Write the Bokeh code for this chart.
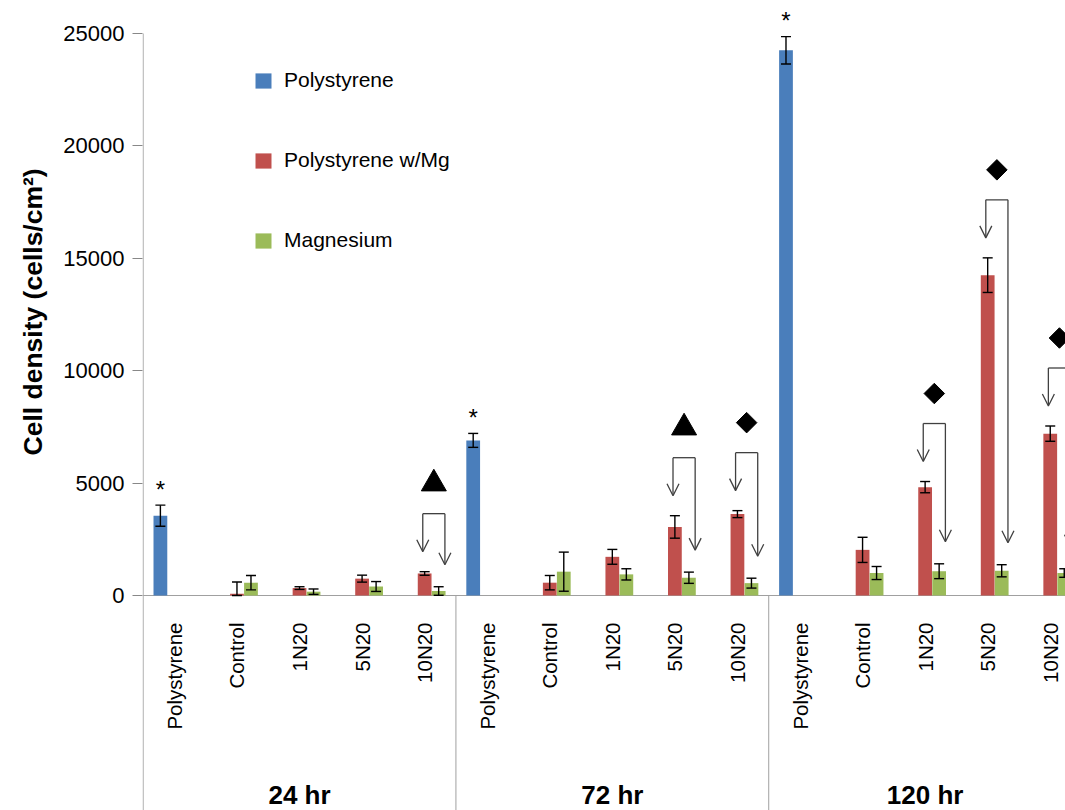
import math
from bokeh.plotting import figure
from bokeh.models import (ColumnDataSource, Range1d, FixedTicker, Whisker, TeeHead,
                          Arrow, OpenHead, Legend, LegendItem, Title)
from bokeh.core.properties import value
from bokeh.embed import file_html
from bokeh.resources import INLINE

# ---------------- data ----------------
groups = ["24 hr", "72 hr", "120 hr"]
categories = ["Polystyrene", "Control", "1N20", "5N20", "10N20"]
series_names = ["Polystyrene", "Polystyrene w/Mg", "Magnesium"]
y_ticks = [0, 5000, 10000, 15000, 20000, 25000]
y_title = "Cell density (cells/cm²)"

# Polystyrene (only in the "Polystyrene" category of each time point)
polystyrene = [3550, 6900, 24250]
polystyrene_err = [470, 310, 610]

# Polystyrene w/Mg for Control, 1N20, 5N20, 10N20
ps_mg_24 = [80, 330, 750, 980]
ps_mg_72 = [570, 1720, 3050, 3620]
ps_mg_120 = [2030, 4820, 14250, 7200]
ps_mg_err_24 = [520, 60, 155, 80]
ps_mg_err_72 = [320, 330, 500, 155]
ps_mg_err_120 = [560, 250, 770, 340]

# Magnesium for Control, 1N20, 5N20, 10N20
mg_24 = [570, 170, 400, 200]
mg_72 = [1060, 940, 790, 550]
mg_120 = [1000, 1080, 1100, 1000]
mg_err_24 = [320, 120, 220, 190]
mg_err_72 = [870, 250, 250, 220]
mg_err_120 = [290, 330, 270, 190]

# significance markers: (time point, category, symbol)
sig_marks = [("24 hr", "10N20", "triangle"),
             ("72 hr", "5N20", "triangle"),
             ("72 hr", "10N20", "diamond"),
             ("120 hr", "1N20", "diamond"),
             ("120 hr", "5N20", "diamond"),
             ("120 hr", "10N20", "diamond")]

ps_mg = [ps_mg_24, ps_mg_72, ps_mg_120]
ps_mg_err = [ps_mg_err_24, ps_mg_err_72, ps_mg_err_120]
mg = [mg_24, mg_72, mg_120]
mg_err = [mg_err_24, mg_err_72, mg_err_120]

# ---------------- layout constants ----------------
BLUE, RED, GREEN = "#4a7ebb", "#c0504d", "#9bbb59"
AXIS_GRAY = "#a0a0a0"
FONT = "Liberation Sans"
W, H = 1065, 810
LEFT = 142
FRAME_W = W - LEFT
UPP = 25000 / 562.0            # data units per pixel
Y_END = 595 * UPP
Y_START = -215 * UPP
CAT_PX = 62.56
X0 = -0.01
X_END = X0 + FRAME_W / CAT_PX
OFF = 0.224
BW = 0.22

n_cat = len(categories)

def cx(g, c):
    return g * n_cat + c + 0.5

# bars
blue_x = [cx(g, 0) - OFF for g in range(len(groups))]
red_x, red_top, red_err = [], [], []
green_x, green_top, green_err = [], [], []
for g in range(len(groups)):
    for c in range(1, n_cat):
        red_x.append(cx(g, c)); red_top.append(ps_mg[g][c - 1]); red_err.append(ps_mg_err[g][c - 1])
        green_x.append(cx(g, c) + OFF); green_top.append(mg[g][c - 1]); green_err.append(mg_err[g][c - 1])

p = figure(width=W, height=H, output_backend="svg", toolbar_location=None,
           x_range=Range1d(X0, X_END), y_range=Range1d(Y_START, Y_END),
           x_axis_location=None, min_border_left=LEFT, min_border_right=0,
           min_border_top=0, min_border_bottom=0)
p.outline_line_color = None
p.xgrid.grid_line_color = None
p.ygrid.grid_line_color = None

# axis lines and group separators
p.segment(x0=[0], y0=[Y_START], x1=[0], y1=[max(y_ticks)], line_color=AXIS_GRAY, line_width=1)
p.segment(x0=[0], y0=[0], x1=[X_END + 1], y1=[0], line_color=AXIS_GRAY, line_width=1)
sep_x = [g * n_cat for g in range(1, len(groups))]
p.segment(x0=sep_x, y0=[Y_START] * len(sep_x), x1=sep_x, y1=[0] * len(sep_x),
          line_color=AXIS_GRAY, line_width=1)

rb = p.vbar(x=blue_x, top=polystyrene, width=BW, fill_color=BLUE, line_color=None)
rr = p.vbar(x=red_x, top=red_top, width=BW, fill_color=RED, line_color=None)
rg = p.vbar(x=green_x, top=green_top, width=BW, fill_color=GREEN, line_color=None)

# error bars
all_x = blue_x + red_x + green_x
all_v = polystyrene + red_top + green_top
all_e = polystyrene_err + red_err + green_err
err_src = ColumnDataSource(dict(base=all_x,
                                upper=[v + e for v, e in zip(all_v, all_e)],
                                lower=[max(v - e, 0) for v, e in zip(all_v, all_e)]))
p.add_layout(Whisker(source=err_src, base="base", upper="upper", lower="lower",
                     dimension="height", line_color="black", line_width=1.4, level="overlay",
                     upper_head=TeeHead(size=10, line_color="black", line_width=1.4),
                     lower_head=TeeHead(size=10, line_color="black", line_width=1.4)))

# stars over polystyrene bars
star_y = [v + e + 16 * UPP for v, e in zip(polystyrene, polystyrene_err)]
p.text(x=blue_x, y=star_y, text=["*"] * len(blue_x), text_align="center",
       text_baseline="middle", text_font=value(FONT), text_font_size="24px",
       text_color="black")

# significance brackets
seg_x0, seg_x1, seg_y = [], [], []
ar_xs, ar_ys, ar_ye = [], [], []
tri_x, tri_y, dia_x, dia_y = [], [], [], []
for gname, cname, sym in sig_marks:
    g = groups.index(gname); c = categories.index(cname)
    rx = cx(g, c); gx = rx + OFF
    rtop = ps_mg[g][c - 1] + ps_mg_err[g][c - 1]
    gtop = mg[g][c - 1] + mg_err[g][c - 1]
    lx, rxx = rx - 0.03, gx + 0.1
    ltip = rtop + 20 * UPP
    rtip = gtop + 22 * UPP
    top = ltip + 38 * UPP
    seg_x0.append(lx); seg_x1.append(rxx); seg_y.append(top)
    ar_xs += [lx, rxx]; ar_ys += [top, top]; ar_ye += [ltip, rtip]
    sx = (lx + rxx) / 2; sy = top + 30 * UPP
    if sym == "triangle":
        tri_x.append(sx); tri_y.append(sy)
    else:
        dia_x.append(sx); dia_y.append(sy)

BR = "#404040"
p.segment(x0=seg_x0, y0=seg_y, x1=seg_x1, y1=seg_y, line_color=BR, line_width=1.3)
ar_src = ColumnDataSource(dict(xs=ar_xs, ys=ar_ys, ye=ar_ye))
p.add_layout(Arrow(source=ar_src, x_start="xs", y_start="ys", x_end="xs", y_end="ye",
                   line_color=BR, line_width=1.3,
                   end=OpenHead(size=12, line_color=BR, line_width=1.3)))
p.scatter(x=tri_x, y=tri_y, marker="triangle", size=25, fill_color="black", line_color="black")
p.scatter(x=dia_x, y=dia_y, marker="square", size=14.5, angle=math.pi / 4,
          fill_color="black", line_color="black")

# category labels (vertical)
lab_x = [cx(g, c) for g in range(len(groups)) for c in range(n_cat)]
lab_t = [categories[c] for g in range(len(groups)) for c in range(n_cat)]
p.text(x=lab_x, y=[-27 * UPP] * len(lab_x), text=lab_t, angle=math.pi / 2,
       text_align="right", text_baseline="middle", text_font=value(FONT),
       text_font_size="20.5px", text_color="black")

# group labels
grp_x = [g * n_cat + n_cat / 2 for g in range(len(groups))]
p.text(x=grp_x, y=[-199 * UPP] * len(groups), text=groups, text_align="center",
       text_baseline="middle", text_font=value(FONT), text_font_size="26px",
       text_font_style="bold", text_color="black")

# y axis
ya = p.yaxis[0]
ya.ticker = FixedTicker(ticks=y_ticks)
ya.axis_line_color = None
ya.major_tick_line_color = "#888888"
ya.major_tick_out = 10
ya.major_tick_in = 0
ya.minor_tick_line_color = None
ya.major_label_text_font = FONT
ya.major_label_text_font_size = "22px"
ya.major_label_text_color = "black"
ya.major_label_standoff = 8

# y-axis title, placed along the 0..25000 span
p.add_layout(Title(text=y_title, align="left", offset=355, standoff=26,
                   text_font=FONT, text_font_size="26.5px", text_font_style="bold",
                   text_color="black"), "left")

legend = Legend(items=[LegendItem(label=series_names[0], renderers=[rb]),
                       LegendItem(label=series_names[1], renderers=[rr]),
                       LegendItem(label=series_names[2], renderers=[rg])],
                location=(111, 558), orientation="vertical")
legend.label_text_font = FONT
legend.label_text_font_size = "21px"
legend.label_text_color = "black"
legend.glyph_width = 20
legend.glyph_height = 19
legend.label_height = 24
legend.label_standoff = 11
legend.spacing = 56
legend.padding = 0
legend.margin = 0
legend.border_line_color = None
legend.background_fill_alpha = 0
p.add_layout(legend)

open("out.html", "w").write(file_html(p, INLINE))
